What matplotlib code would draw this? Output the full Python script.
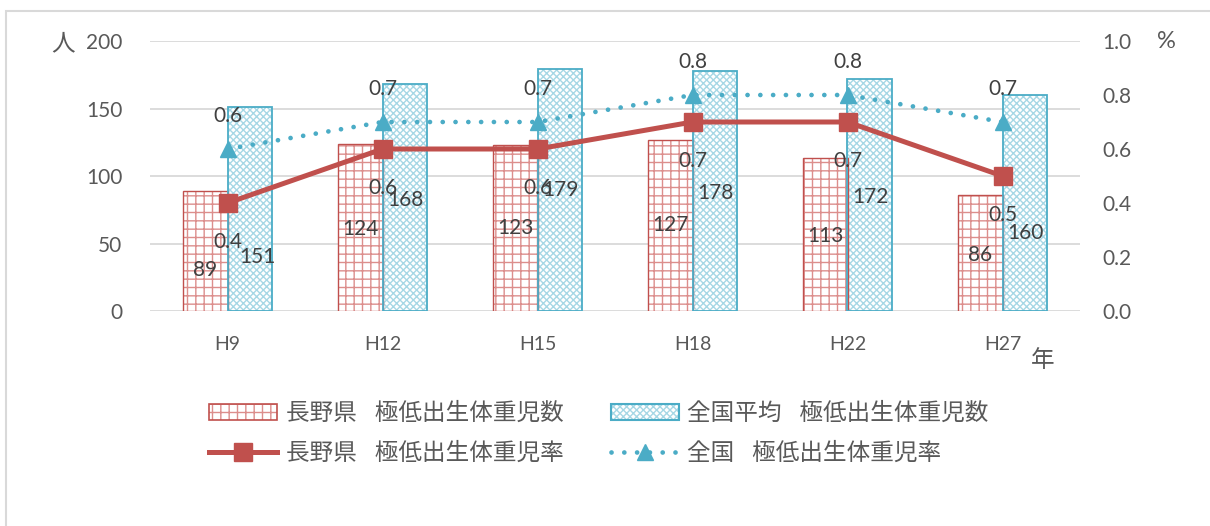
import matplotlib

matplotlib.use("Agg")
import matplotlib.pyplot as plt
from matplotlib.legend_handler import HandlerTuple
from matplotlib.lines import Line2D
from matplotlib.patches import Patch, Rectangle

plt.rcParams["font.family"] = ["Lato", "Noto Sans CJK JP", "DejaVu Sans"]

# survey years (Heisei era)
years = ["H9", "H12", "H15", "H18", "H22", "H27"]

# very-low-birth-weight infants: counts (persons)
nagano_count = [89, 124, 123, 127, 113, 86]
national_count = [151, 168, 179, 178, 172, 160]

# very-low-birth-weight infants: rate (%)
nagano_rate = [0.4, 0.6, 0.6, 0.7, 0.7, 0.5]
national_rate = [0.6, 0.7, 0.7, 0.8, 0.8, 0.7]

RED = "#C0504D"
RED_HATCH = "#DC8E8C"
BLUE = "#4BACC6"
BLUE_HATCH = "#A6D7E5"
TEXT = "#404040"
TICK = "#595959"
GRID = "#D9D9D9"
FS = 15

fig = plt.figure(figsize=(12.1, 5.26), dpi=100)
ax = fig.add_axes([150 / 1210, 1 - 311 / 526, 930 / 1210, 270 / 526])
ax2 = ax.twinx()

x = list(range(len(years)))
w = 0.29
xr = [i - w / 2 for i in x]
xb = [i + w / 2 for i in x]

# hatched fill first, then a plain outline on top so border and hatch colours differ
ax.bar(xr, nagano_count, w, color="white", edgecolor=RED_HATCH, hatch="++", linewidth=0, zorder=2)
ax.bar(xr, nagano_count, w, fill=False, edgecolor=RED, linewidth=1.0, zorder=3)
ax.bar(xb, national_count, w, color="white", edgecolor=BLUE_HATCH, hatch="xxxxx", linewidth=0, zorder=2)
ax.bar(xb, national_count, w, fill=False, edgecolor=BLUE, linewidth=1.3, zorder=3)

dotted = (0, (0.01, 2.7))
ax2.plot(x, nagano_rate, color=RED, lw=3.6, marker="s", ms=13, zorder=4)
ax2.plot(x, national_rate, color=BLUE, lw=3.4, linestyle=dotted,
         dash_capstyle="round", marker="^", ms=12, zorder=4)

ax.set_xlim(-0.5, len(years) - 0.5)
ax.set_ylim(0, 200)
ax.set_yticks([0, 50, 100, 150, 200])
ax2.set_ylim(0, 1.0)
ax2.set_yticks([0, 0.2, 0.4, 0.6, 0.8, 1.0])
ax2.set_yticklabels([f"{v:.1f}" for v in ax2.get_yticks()])

ax.set_xticks(x)
ax.set_xticklabels(years)
ax.grid(axis="y", color=GRID, lw=1.3, zorder=0)
ax.set_axisbelow(True)
for a in (ax, ax2):
    for s in a.spines.values():
        s.set_visible(False)
ax.tick_params(axis="y", length=0, pad=20, labelsize=FS, labelcolor=TICK)
ax.tick_params(axis="x", length=0, pad=18, labelsize=FS - 1, labelcolor=TICK)
ax2.tick_params(axis="y", length=0, pad=16, labelsize=FS, labelcolor=TICK)

# count labels, placed at a fraction of each bar's height
red_pos = [0.34, 0.49, 0.5, 0.5, 0.49, 0.48]
blue_pos = [0.265, 0.49, 0.5, 0.49, 0.49, 0.36]
blue_dx = [0.05, 0, 0, 0, 0, 0]
for i in x:
    ax2.text(xr[i], nagano_count[i] * red_pos[i], str(nagano_count[i]), transform=ax.transData,
             ha="center", va="center", fontsize=FS, color=TEXT, zorder=6)
    ax2.text(xb[i] + blue_dx[i], national_count[i] * blue_pos[i], str(national_count[i]),
             transform=ax.transData, ha="center", va="center", fontsize=FS, color=TEXT, zorder=6)
    ax2.annotate(f"{nagano_rate[i]:.1f}", (i, nagano_rate[i]), xytext=(0, -28),
                 textcoords="offset points", ha="center", va="center", fontsize=FS, color=TEXT, zorder=6)
    ax2.annotate(f"{national_rate[i]:.1f}", (i, national_rate[i]), xytext=(0, 24),
                 textcoords="offset points", ha="center", va="center", fontsize=FS, color=TEXT, zorder=6)

# unit captions
fig.text(63 / 1210, 1 - 44 / 526, "人", fontsize=17, color=TICK, ha="center", va="center")
fig.text(1166 / 1210, 1 - 41 / 526, "%", fontsize=17, color=TICK, ha="center", va="center")
fig.text(1043 / 1210, 1 - 360 / 526, "年", fontsize=17, color=TICK, ha="center", va="center")

# chart frame
fig.patches.append(Rectangle((6 / 1210, -0.1), 1.2, 1 - 11 / 526 + 0.1, transform=fig.transFigure,
                             fill=False, edgecolor=GRID, lw=1.5))

h_red = (Patch(facecolor="white", edgecolor=RED_HATCH, hatch="++", lw=0),
         Patch(fill=False, edgecolor=RED, lw=1.2))
h_blue = (Patch(facecolor="white", edgecolor=BLUE_HATCH, hatch="xxxxx", lw=0),
          Patch(fill=False, edgecolor=BLUE, lw=1.5))
h_rline = Line2D([], [], color=RED, lw=3.6, marker="s", ms=13)
h_bline = Line2D([], [], color=BLUE, lw=3.4, linestyle=dotted, dash_capstyle="round",
                 marker="^", ms=12)
sp = "\u2002 "
leg = fig.legend([h_red, h_rline, h_blue, h_bline],
                 [f"長野県{sp}極低出生体重児数", f"長野県{sp}極低出生体重児率",
                  f"全国平均{sp}極低出生体重児数", f"全国{sp}極低出生体重児率"],
                 ncol=2, loc="center left", bbox_to_anchor=(197 / 1210, 1 - 433 / 526),
                 frameon=False, fontsize=17, handlelength=2.9, handletextpad=0.35,
                 columnspacing=2.0, labelspacing=0.75, borderpad=0,
                 handler_map={tuple: HandlerTuple(ndivide=1)})
for t in leg.get_texts():
    t.set_color(TICK)

fig.savefig("out.png", dpi=100, facecolor="white")
